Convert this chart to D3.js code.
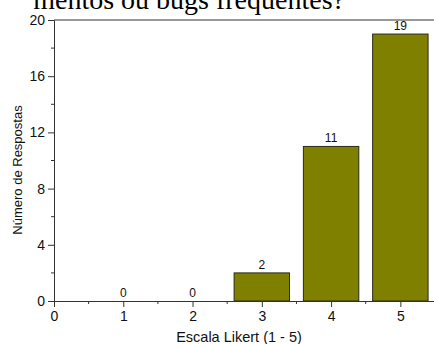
<!DOCTYPE html>
<html>
<head>
<meta charset="utf-8">
<script src="https://cdn.jsdelivr.net/npm/d3@7"></script>
<style>
  html, body { margin: 0; padding: 0; background: #fff; }
  svg { display: block; }
</style>
</head>
<body>
<svg id="chart" width="434" height="344"></svg>
<script>
// Responses per Likert level
const categories = [1, 2, 3, 4, 5];
const counts = [0, 0, 2, 11, 19];
const yTicks = [0, 4, 8, 12, 16, 20];
const xTicks = [0, 1, 2, 3, 4, 5];
const headingText = "mentos ou bugs frequentes?";

const svg = d3.select("#chart");
const W = 434, H = 344;
const margin = { left: 54, right: -1, top: 20, bottom: 43 };

const x = d3.scaleLinear().domain([0, 5.5]).range([margin.left, W - margin.right]);
const y = d3.scaleLinear().domain([0, 20]).range([H - margin.bottom, margin.top]);

const font = "'Liberation Sans', Arial, sans-serif";
const ink = "#333";

// heading line from the surrounding document (runs past the top edge)
svg.append("text")
  .attr("x", 345).attr("y", 9)
  .attr("text-anchor", "end")
  .attr("font-family", "'Liberation Serif', 'Times New Roman', serif")
  .attr("font-size", 28)
  .attr("fill", "#000")
  .text(headingText);

// bars
const barW = x(0.8) - x(0);
svg.append("g").selectAll("rect")
  .data(categories.map((c, i) => ({ c, v: counts[i] })).filter(d => d.v > 0))
  .join("rect")
  .attr("x", d => x(d.c) - barW / 2)
  .attr("y", d => y(d.v))
  .attr("width", barW)
  .attr("height", d => y(0) - y(d.v))
  .attr("fill", "#808000")
  .attr("stroke", "#2a2a1a")
  .attr("stroke-width", 1);

// value labels
svg.append("g").selectAll("text")
  .data(categories.map((c, i) => ({ c, v: counts[i] })))
  .join("text")
  .attr("x", d => x(d.c))
  .attr("y", d => y(d.v) - 4)
  .attr("text-anchor", "middle")
  .attr("font-family", font)
  .attr("font-size", 12)
  .attr("fill", "#111")
  .text(d => d.v);

// frame: top and right edges
svg.append("line")
  .attr("x1", x(0)).attr("x2", x(5.5))
  .attr("y1", y(20)).attr("y2", y(20))
  .attr("stroke", ink).attr("stroke-width", 1);
svg.append("line")
  .attr("x1", x(5.5)).attr("x2", x(5.5))
  .attr("y1", y(20)).attr("y2", y(0))
  .attr("stroke", ink).attr("stroke-width", 1);

// left axis
const yAxis = svg.append("g")
  .attr("transform", `translate(${x(0)},0)`)
  .call(d3.axisLeft(y).tickValues(yTicks).tickSize(6).tickPadding(3));
yAxis.append("g").selectAll("line")
  .data([2, 6, 10, 14, 18])
  .join("line")
  .attr("x1", -3).attr("x2", 0)
  .attr("y1", d => y(d)).attr("y2", d => y(d))
  .attr("stroke", ink);

// bottom axis
const xAxis = svg.append("g")
  .attr("transform", `translate(0,${y(0)})`)
  .call(d3.axisBottom(x).tickValues(xTicks).tickSize(6).tickPadding(4).tickFormat(d3.format("d")));
xAxis.append("g").selectAll("line")
  .data([0.5, 1.5, 2.5, 3.5, 4.5])
  .join("line")
  .attr("x1", d => x(d)).attr("x2", d => x(d))
  .attr("y1", 0).attr("y2", 3)
  .attr("stroke", ink);

[yAxis, xAxis].forEach(g => {
  g.select(".domain").attr("stroke", ink);
  g.selectAll(".tick line").attr("stroke", ink);
  g.selectAll(".tick text")
    .attr("font-family", font)
    .attr("font-size", 14)
    .attr("fill", "#111");
});

// axis titles
svg.append("text")
  .attr("x", 239).attr("y", 342)
  .attr("text-anchor", "middle")
  .attr("font-family", font)
  .attr("font-size", 14.5)
  .attr("fill", "#111")
  .text("Escala Likert (1 - 5)");

svg.append("text")
  .attr("transform", `translate(22,170) rotate(-90)`)
  .attr("text-anchor", "middle")
  .attr("font-family", font)
  .attr("font-size", 13)
  .attr("fill", "#111")
  .text("Número de Respostas");
</script>
</body>
</html>
